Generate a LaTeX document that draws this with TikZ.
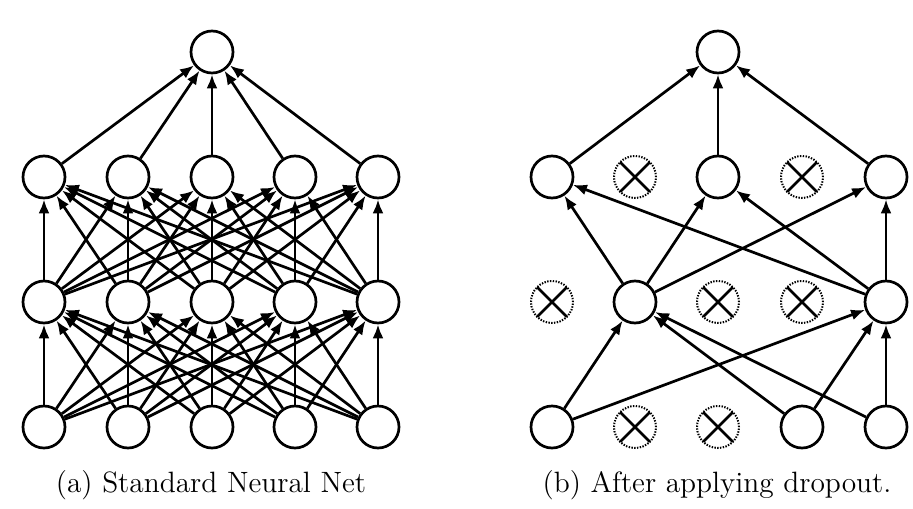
\documentclass[tikz,border=0pt]{standalone}
\usetikzlibrary{arrows.meta}

\tikzset{
  neuron/.style={circle, draw, fill=white, line width=1.35pt, minimum size=21pt, inner sep=0pt},
  dropped/.style={circle, draw, dash pattern=on 0.7pt off 0.7pt, line width=1pt, minimum size=21pt, inner sep=0pt,
    path picture={
      \draw[solid, line width=1.35pt] (path picture bounding box.north west) -- (path picture bounding box.south east);
      \draw[solid, line width=1.35pt] (path picture bounding box.north east) -- (path picture bounding box.south west);
    }},
  synapse/.style={-{Latex[length=7pt, width=5.5pt]}, line width=1.35pt},
  caption/.style={anchor=base, font={\fontsize{14.7}{17}\selectfont}},
}

\begin{document}
\begin{tikzpicture}[x=0.5pt, y=-0.5pt]

\useasboundingbox (0,0) rectangle (913,508);

% (a) standard net
\foreach \x [count=\i] in {44,128,212,295,378} {
  \node [neuron] (a-in-\i) at (\x,427) {};
  \node [neuron] (a-hone-\i) at (\x,302) {};
  \node [neuron] (a-htwo-\i) at (\x,177) {};
}
\node [neuron] (a-out) at (212,52) {};

\foreach \s in {1,...,5} {
  \foreach \t in {1,...,5} {
    \draw [synapse] (a-in-\s) -- (a-hone-\t);
    \draw [synapse] (a-hone-\s) -- (a-htwo-\t);
  }
  \draw [synapse] (a-htwo-\s) -- (a-out);
}

% (b) thinned net
\node [neuron]  (b-in-1) at (552,427) {};
\node [dropped] (b-in-2) at (635,427) {};
\node [dropped] (b-in-3) at (718,427) {};
\node [neuron]  (b-in-4) at (802,427) {};
\node [neuron]  (b-in-5) at (886,427) {};

\node [dropped] (b-hone-1) at (552,302) {};
\node [neuron]  (b-hone-2) at (635,302) {};
\node [dropped] (b-hone-3) at (718,302) {};
\node [dropped] (b-hone-4) at (802,302) {};
\node [neuron]  (b-hone-5) at (886,302) {};

\node [neuron]  (b-htwo-1) at (552,177) {};
\node [dropped] (b-htwo-2) at (635,177) {};
\node [neuron]  (b-htwo-3) at (718,177) {};
\node [dropped] (b-htwo-4) at (802,177) {};
\node [neuron]  (b-htwo-5) at (886,177) {};

\node [neuron] (b-out) at (718,52) {};

\foreach \s in {1,4,5}
  \foreach \t in {2,5}
    \draw [synapse] (b-in-\s) -- (b-hone-\t);
\foreach \s in {2,5}
  \foreach \t in {1,3,5}
    \draw [synapse] (b-hone-\s) -- (b-htwo-\t);
\foreach \s in {1,3,5}
  \draw [synapse] (b-htwo-\s) -- (b-out);

\node [caption] (cap-a) at (211,492) {(a) Standard Neural Net};
\node [caption] (cap-b) at (717,492) {(b) After applying dropout.};

\end{tikzpicture}
\end{document}
